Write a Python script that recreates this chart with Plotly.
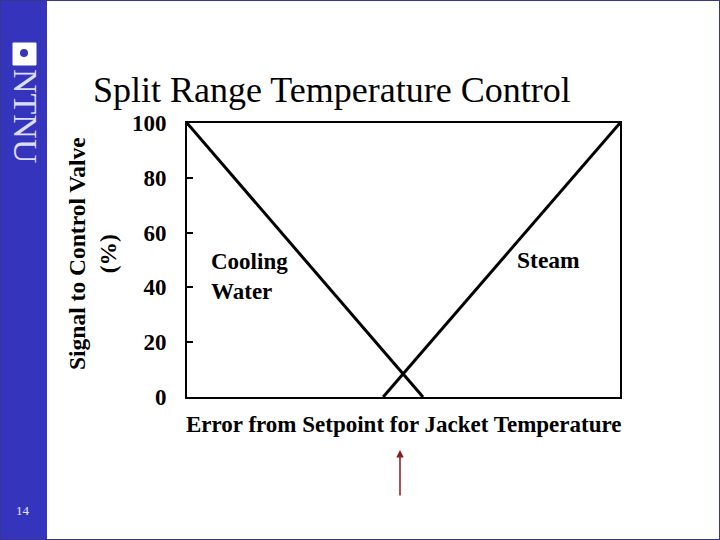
import plotly.graph_objects as go

# Data (error axis in arbitrary units 0..100, signal in %)
cooling_x = [0, 54.5]
cooling_y = [100, 0]
steam_x = [45.3, 100]
steam_y = [0, 100]
y_ticks = [0, 20, 40, 60, 80, 100]
y_ticklabels = ["0", "20", "40", "60", "80", "100"]

W, H = 720, 540
L, R, T, B = 187, 620, 123, 397

def px(x):
    return x / W

def py(y):
    return 1 - y / H

fig = go.Figure()
fig.add_trace(go.Scatter(x=cooling_x, y=cooling_y, mode="lines",
                         line=dict(color="black", width=3), cliponaxis=False,
                         name="Cooling Water", showlegend=False))
fig.add_trace(go.Scatter(x=steam_x, y=steam_y, mode="lines",
                         line=dict(color="black", width=3), cliponaxis=False,
                         name="Steam", showlegend=False))

serif = "Liberation Serif"
blue = "#3434BC"

fig.update_layout(
    width=W, height=H, template="none",
    margin=dict(l=0, r=0, t=0, b=0),
    paper_bgcolor="white", plot_bgcolor="white",
    showlegend=False,
    xaxis=dict(domain=[px(L), px(R)], range=[0, 100], showticklabels=False,
               ticks="", showgrid=False, zeroline=False, showline=True,
               linecolor="black", linewidth=2, mirror=True, automargin=False,
               title=None),
    yaxis=dict(domain=[py(B), py(T)], range=[0, 100], tickvals=y_ticks,
               ticktext=y_ticklabels, ticks="inside", ticklen=6, tickwidth=1.5,
               tickcolor="black", showgrid=False, zeroline=False, showline=True,
               linecolor="black", linewidth=2, mirror=True, automargin=False,
               ticklabelstandoff=14,
               tickfont=dict(family=serif, size=23, color="black", weight="bold"),
               title=None),
)

shapes = [
    dict(type="rect", xref="paper", yref="paper", x0=0, x1=px(47), y0=0, y1=1,
         fillcolor=blue, line=dict(width=0), layer="below"),
    dict(type="rect", xref="paper", yref="paper", x0=0, x1=1, y0=0, y1=1,
         fillcolor="rgba(0,0,0,0)", line=dict(color="#36368E", width=2)),
    dict(type="rect", xref="paper", yref="paper", x0=px(13), x1=px(36),
         y0=py(65), y1=py(43), fillcolor="white", line=dict(color="white", width=1)),
    dict(type="circle", xref="paper", yref="paper", x0=px(20), x1=px(28),
         y0=py(57), y1=py(49), fillcolor=blue, line=dict(width=0)),
]
fig.update_layout(shapes=shapes)

ann = []
ann.append(dict(text="Split Range Temperature Control", xref="paper", yref="paper",
                x=px(91), y=py(90), xanchor="left", yanchor="middle", showarrow=False,
                font=dict(family=serif, size=36, color="black")))
ann.append(dict(text="NTNU", xref="paper", yref="paper", x=px(25), y=py(116),
                xanchor="center", yanchor="middle", showarrow=False, textangle=90,
                font=dict(family=serif, size=34, color="#DCDCF4")))
ann.append(dict(text="14", xref="paper", yref="paper", x=px(23), y=py(510),
                xanchor="center", yanchor="middle", showarrow=False,
                font=dict(family=serif, size=13, color="#E6E6F6")))
ann.append(dict(text="Signal to Control Valve<br>(%)", xref="paper", yref="paper",
                x=px(93), y=py(254), xanchor="center", yanchor="middle", showarrow=False,
                textangle=-90,
                font=dict(family=serif, size=23.5, color="black", weight="bold")))
ann.append(dict(text="Error from Setpoint for Jacket Temperature", xref="paper", yref="paper",
                x=px(403), y=py(424), xanchor="center", yanchor="middle", showarrow=False,
                font=dict(family=serif, size=23, color="black", weight="bold")))
ann.append(dict(text="Cooling<br>Water", xref="paper", yref="paper", align="left",
                x=px(209), y=py(276), xanchor="left", yanchor="middle", showarrow=False,
                font=dict(family=serif, size=23, color="black", weight="bold")))
ann.append(dict(text="Steam", xref="paper", yref="paper",
                x=px(515), y=py(260), xanchor="left", yanchor="middle", showarrow=False,
                font=dict(family=serif, size=23.5, color="black", weight="bold")))
ann.append(dict(text="", xref="paper", yref="paper", x=px(400), y=py(450),
                showarrow=True, ax=0, ay=47, arrowhead=2, arrowsize=1.0,
                arrowwidth=1.5, arrowcolor="#8B1A1A"))
fig.update_layout(annotations=ann)

fig.write_html("out.html", config={"displayModeBar": False},
               post_script="document.body.style.margin='0';document.body.style.overflow='hidden';")
